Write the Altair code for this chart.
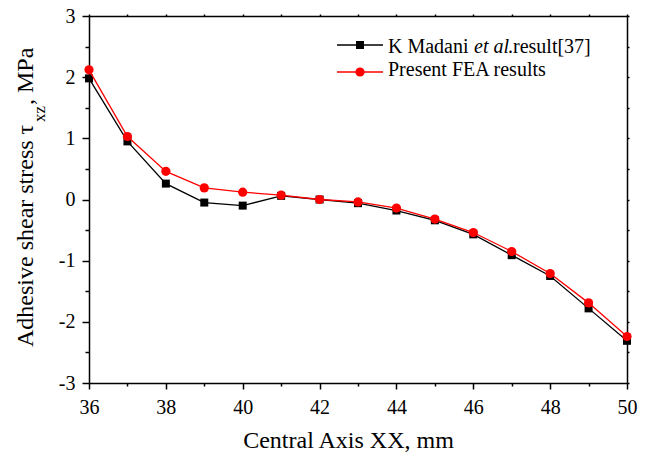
import altair as alt
import pandas as pd

# ---- data ----
x_mm = [36, 37, 38, 39, 40, 41, 42, 43, 44, 45, 46, 47, 48, 49, 50]
madani = [1.98, 0.95, 0.26, -0.05, -0.10, 0.06, 0.00, -0.06, -0.18, -0.34, -0.57, -0.91, -1.25, -1.78, -2.31]
fea = [2.12, 1.03, 0.46, 0.19, 0.12, 0.07, 0.00, -0.04, -0.14, -0.32, -0.54, -0.85, -1.21, -1.69, -2.24]
x_ticks = list(range(36, 51))
y_ticks = [-3 + 0.5 * i for i in range(13)]

FONT = "Liberation Serif"
RED = "#ff0000"

df_m = pd.DataFrame({"x": x_mm, "y": madani})
df_f = pd.DataFrame({"x": x_mm, "y": fea})

x_scale = alt.Scale(domain=[36, 50], nice=False, zero=False)
y_scale = alt.Scale(domain=[-3, 3], nice=False, zero=False)

common_axis = dict(grid=False, domainColor="black", domainWidth=1.5, tickColor="black",
                   tickWidth=1.5, labelColor="black", labelFont=FONT, labelOverlap=False,
                   labelFlush=False)

x_axis = alt.Axis(orient="bottom", values=x_ticks,
                  labelExpr="datum.value % 2 === 0 ? '' + datum.value : ''",
                  tickSize={"condition": {"test": "datum.value % 2 !== 0", "value": 3}, "value": 6},
                  labelFontSize=20, labelPadding=8,
                  title="Central Axis XX, mm", titleFont=FONT, titleFontSize=24,
                  titleFontWeight="normal", titleColor="black",
                  titleBaseline="alphabetic", titleY=64, titleX=259, **common_axis)
y_axis = alt.Axis(orient="left", values=y_ticks,
                  labelExpr="datum.value % 1 === 0 ? '' + datum.value : ''",
                  tickSize={"condition": {"test": "datum.value % 1 !== 0", "value": 4}, "value": 7},
                  labelFontSize=20, labelPadding=7, title=None, **common_axis)

X = alt.X("x:Q", scale=x_scale, axis=x_axis)
Y = alt.Y("y:Q", scale=y_scale, axis=y_axis)

black_line = alt.Chart(df_m).mark_line(color="black", strokeWidth=1.3, clip=False).encode(X, Y)
black_pts = alt.Chart(df_m).mark_point(shape="square", filled=True, size=64, color="black",
                                       opacity=1, clip=False).encode(X, Y)
red_line = alt.Chart(df_f).mark_line(color=RED, strokeWidth=1.3, clip=False).encode(X, Y)
red_pts = alt.Chart(df_f).mark_point(shape="circle", filled=True, size=85, color=RED,
                                     opacity=1, clip=False).encode(X, Y)

main = alt.layer(black_line, black_pts, red_line, red_pts)

# frame: top and right axes with small ticks
top_axis = alt.Axis(orient="top", values=x_ticks, labels=False, tickSize=2, title=None, **common_axis)
right_axis = alt.Axis(orient="right", values=y_ticks, labels=False, tickSize=2, title=None, **common_axis)
frame = alt.Chart(df_m).mark_point(opacity=0).encode(
    alt.X("x:Q", scale=x_scale, axis=top_axis),
    alt.Y("y:Q", scale=y_scale, axis=right_axis))

# y-axis title with subscript
def txt(s, x, y, size, angle=0, style="normal", align="left"):
    return alt.Chart(pd.DataFrame({"t": [s]})).mark_text(
        font=FONT, fontSize=size, fontStyle=style, align=align, baseline="alphabetic",
        angle=angle, color="black").encode(text="t:N", x=alt.value(x), y=alt.value(y))

ytitle = [
    txt("Adhesive shear stress τ", -56, 331, 24, angle=270),
    txt("xz", -44, 106, 17, angle=270),
    txt(", MPa", -56, 89, 24, angle=270),
]

# legend
leg_names = ["K Madani", "et al", ".result[37]", "Present FEA results"]
legend = [
    alt.Chart(pd.DataFrame({"a": [0]})).mark_rule(color="black", strokeWidth=1.3).encode(
        x=alt.value(248), x2=alt.value(294), y=alt.value(29)),
    alt.Chart(pd.DataFrame({"a": [0]})).mark_point(shape="square", filled=True, size=64,
                                                   color="black", opacity=1).encode(
        x=alt.value(271), y=alt.value(29)),
    alt.Chart(pd.DataFrame({"a": [0]})).mark_rule(color=RED, strokeWidth=1.3).encode(
        x=alt.value(248), x2=alt.value(294), y=alt.value(56)),
    alt.Chart(pd.DataFrame({"a": [0]})).mark_point(shape="circle", filled=True, size=85,
                                                   color=RED, opacity=1).encode(
        x=alt.value(271), y=alt.value(56)),
    txt(leg_names[0], 299, 37, 20),
    txt(leg_names[1], 385, 37, 20, style="italic"),
    txt(leg_names[2], 419, 37, 20),
    txt(leg_names[3], 299, 60, 20),
]

chart = alt.layer(main, frame, *ytitle, *legend).resolve_axis(
    x="independent", y="independent"
).properties(
    width=538, height=367,
    autosize=alt.AutoSizeParams(type="none"),
    padding={"left": 89, "top": 16, "right": 24, "bottom": 69},
    background="white",
).configure_view(stroke=None)

chart.save("out.html", embed_options={"renderer": "svg", "actions": False})
